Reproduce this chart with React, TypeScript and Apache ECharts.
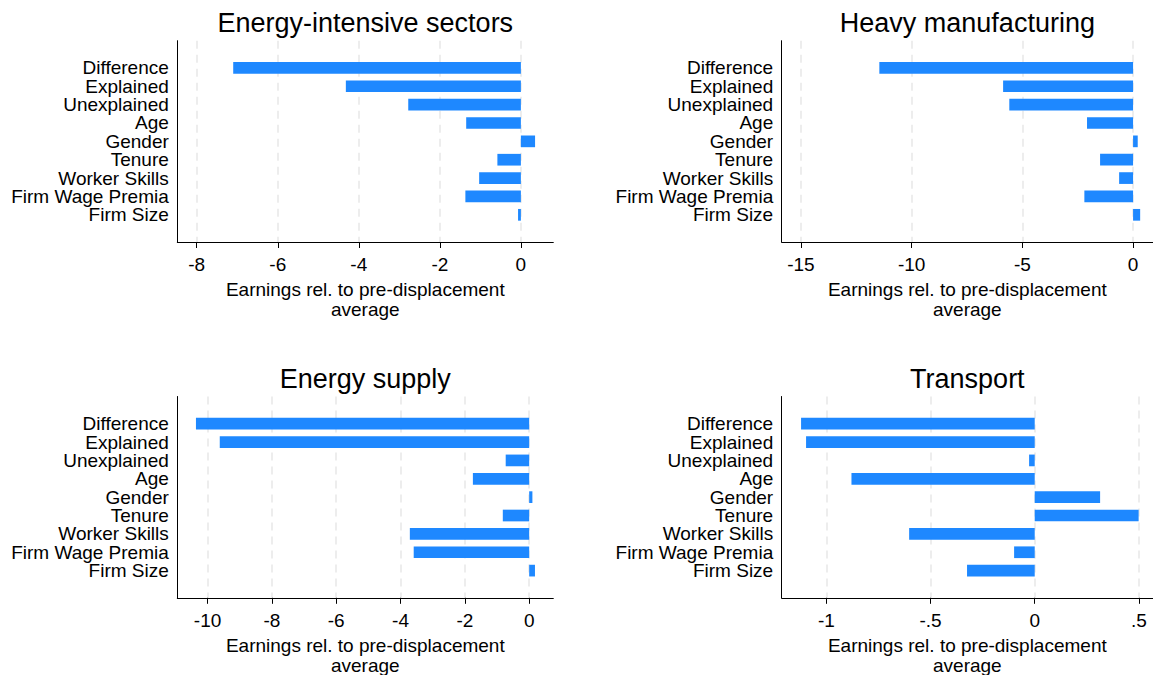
import React, { useEffect, useRef } from "react";
import * as echarts from "echarts";

const categories = [
  "Difference",
  "Explained",
  "Unexplained",
  "Age",
  "Gender",
  "Tenure",
  "Worker Skills",
  "Firm Wage Premia",
  "Firm Size",
];

const energyIntensive = [-7.1, -4.32, -2.78, -1.35, 0.35, -0.58, -1.03, -1.37, -0.07];
const heavyManufacturing = [-11.46, -5.87, -5.59, -2.08, 0.21, -1.49, -0.63, -2.2, 0.32];
const energySupply = [-10.36, -9.62, -0.73, -1.75, 0.1, -0.82, -3.71, -3.59, 0.18];
const transport = [-1.122, -1.098, -0.027, -0.88, 0.314, 0.499, -0.603, -0.099, -0.325];

const ticksEnergyIntensive = [-8, -6, -4, -2, 0];
const ticksHeavy = [-15, -10, -5, 0];
const ticksSupply = [-10, -8, -6, -4, -2, 0];
const ticksTransport = [-1, -0.5, 0, 0.5];

const panelTitles = ["Energy-intensive sectors", "Heavy manufacturing", "Energy supply", "Transport"];
const axisTitle = "Earnings rel. to pre-displacement\naverage";

const FONT = "'Liberation Sans', Arial, Helvetica, sans-serif";
const BLUE = "#1e88ff";

const fmt = (v: number) => String(v).replace(/^(-?)0\./, "$1.");

const panels = [
  { title: panelTitles[0], values: energyIntensive, ticks: ticksEnergyIntensive, min: -8.48, max: 0.8, left: 177.3, top: 40.7, width: 376, height: 201.3 },
  { title: panelTitles[1], values: heavyManufacturing, ticks: ticksHeavy, min: -15.87, max: 0.9, left: 781.7, top: 40.7, width: 371.3, height: 201.3 },
  { title: panelTitles[2], values: energySupply, ticks: ticksSupply, min: -10.94, max: 0.75, left: 177.3, top: 396.5, width: 376, height: 201.3 },
  { title: panelTitles[3], values: transport, ticks: ticksTransport, min: -1.215, max: 0.568, left: 781.7, top: 396.5, width: 371.3, height: 201.3 },
];

export default function App() {
  const ref = useRef<HTMLDivElement>(null);

  useEffect(() => {
    const chart = echarts.init(ref.current!, null, { renderer: "svg" });
    const grid: any[] = [];
    const xAxis: any[] = [];
    const yAxis: any[] = [];
    const series: any[] = [];
    const graphic: any[] = [];
    const inset = 18;

    panels.forEach((p, i) => {
      grid.push({ left: p.left, top: p.top, width: p.width, height: p.height });
      grid.push({ left: p.left, top: p.top + inset, width: p.width, height: p.height - 2 * inset });

      xAxis.push({
        gridIndex: 2 * i,
        type: "value",
        min: p.min,
        max: p.max,
        axisLine: { show: true, onZero: false, lineStyle: { color: "#000", width: 1 } },
        axisTick: { show: true, length: 6, customValues: p.ticks, lineStyle: { color: "#000", width: 1 } },
        axisLabel: {
          customValues: p.ticks,
          formatter: (v: number) => fmt(v),
          fontSize: 19,
          color: "#000",
          fontFamily: FONT,
          margin: 13,
        },
        splitLine: { show: true, lineStyle: { color: "#e8e8e8", width: 1.5, type: [8, 6] } },
      });
      xAxis.push({ gridIndex: 2 * i + 1, type: "value", min: p.min, max: p.max, show: false });

      yAxis.push({
        gridIndex: 2 * i,
        type: "value",
        min: 0,
        max: 1,
        axisLine: { show: true, onZero: false, lineStyle: { color: "#000", width: 1 } },
        axisTick: { show: false },
        axisLabel: { show: false },
        splitLine: { show: false },
      });
      yAxis.push({
        gridIndex: 2 * i + 1,
        type: "category",
        data: categories,
        inverse: true,
        axisLine: { show: false },
        axisTick: { show: false },
        axisLabel: { interval: 0, fontSize: 19, lineHeight: 17, color: "#000", fontFamily: FONT, margin: 8.5 },
        splitLine: { show: false },
      });

      series.push({
        type: "bar",
        xAxisIndex: 2 * i + 1,
        yAxisIndex: 2 * i + 1,
        data: p.values,
        barWidth: 11.7,
        itemStyle: { color: BLUE },
        silent: true,
      });

      const cx = p.left + p.width / 2;
      graphic.push({
        type: "text",
        x: cx,
        y: p.top - 17.5,
        style: { text: p.title, fill: "#000", fontSize: 27, fontFamily: FONT, align: "center", verticalAlign: "middle" },
      });
      graphic.push({
        type: "text",
        x: cx,
        y: p.top + p.height + 57.5,
        style: {
          text: axisTitle,
          fill: "#000",
          fontSize: 19,
          fontFamily: FONT,
          lineHeight: 19.5,
          align: "center",
          verticalAlign: "middle",
        },
      });
    });

    chart.setOption({
      animation: false,
      backgroundColor: "#fff",
      grid,
      xAxis,
      yAxis,
      series,
      graphic,
    });

    return () => chart.dispose();
  }, []);

  return <div ref={ref} style={{ position: "absolute", left: 0, top: 0, width: 1153, height: 675 }} />;
}
